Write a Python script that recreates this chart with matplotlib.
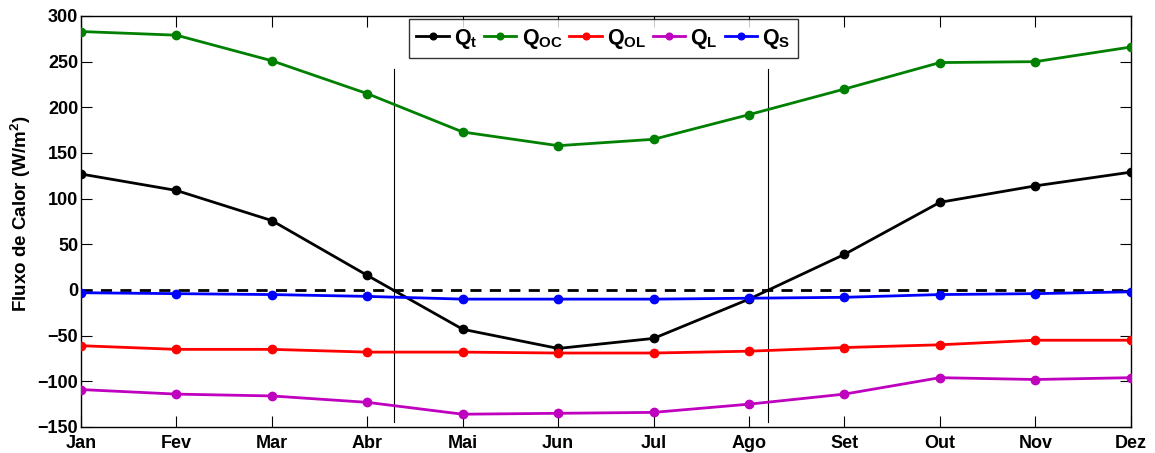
import matplotlib
matplotlib.use("Agg")
import matplotlib.pyplot as plt
import numpy as np

plt.rcParams['font.family'] = ['Liberation Sans', 'DejaVu Sans']
plt.rcParams['font.weight'] = 'bold'
plt.rcParams['mathtext.fontset'] = 'custom'
plt.rcParams['mathtext.bf'] = 'Liberation Sans:bold'
plt.rcParams['mathtext.rm'] = 'Liberation Sans:bold'

meses = ['Jan', 'Fev', 'Mar', 'Abr', 'Mai', 'Jun', 'Jul', 'Ago', 'Set', 'Out', 'Nov', 'Dez']

q_t = [127, 109, 76, 16, -43, -64, -53, -10, 39, 96, 114, 129]
q_oc = [283, 279, 251, 215, 173, 158, 165, 192, 220, 249, 250, 266]
q_ol = [-61, -65, -65, -68, -68, -69, -69, -67, -63, -60, -55, -55]
q_l = [-109, -114, -116, -123, -136, -135, -134, -125, -114, -96, -98, -96]
q_s = [-3, -4, -5, -7, -10, -10, -10, -9, -8, -5, -4, -2]

# linhas verticais (limites do periodo)
lim_x = [3.28, 7.2]
lim_y = [-145, 242]

series = [
    (q_t, 'black', r'$\mathbf{Q_t}$'),
    (q_oc, 'green', r'$\mathbf{Q_{OC}}$'),
    (q_ol, 'red', r'$\mathbf{Q_{OL}}$'),
    (q_l, 'm', r'$\mathbf{Q_L}$'),
    (q_s, 'blue', r'$\mathbf{Q_S}$'),
]

fig = plt.figure(figsize=(11.55, 4.53), dpi=100)
ax = fig.add_axes([0.0701, 0.0574, 0.9089, 0.9073])

x = np.arange(len(meses))
ax.plot([x[0], x[-1]], [0, 0], '--', color='black', lw=2, dashes=(4, 3), zorder=1)
for xv in lim_x:
    ax.plot([xv, xv], lim_y, color='black', lw=0.8, zorder=1)

for vals, cor, nome in series:
    ax.plot(x, vals, '-o', color=cor, lw=2, ms=6, label=nome, zorder=3)

ax.set_xlim(0, 11)
ax.set_ylim(-150, 300)
ax.set_xticks(x)
ax.set_xticklabels(meses)
ax.set_yticks(np.arange(-150, 301, 50))
ax.tick_params(direction='in', length=8, width=0.8, top=True, right=True,
               labelsize=13)
ax.tick_params(axis='x', pad=5.5)
ax.tick_params(axis='y', pad=2)
for lab in ax.get_xticklabels() + ax.get_yticklabels():
    lab.set_fontweight('bold')
ax.set_ylabel(r'Fluxo de Calor (W/m$^\mathbf{2}$)', fontsize=13.5, fontweight='bold')
ax.yaxis.set_label_coords(-0.046, 0.52)
for sp in ax.spines.values():
    sp.set_linewidth(1.0)

leg = ax.legend(loc='upper center', bbox_to_anchor=(0.5225, 0.958), bbox_transform=fig.transFigure,
                ncol=5, fontsize=15.5, frameon=True, fancybox=False, edgecolor='black',
                handlelength=1.5, handletextpad=0.25, columnspacing=0.3, borderpad=0.35,
                borderaxespad=0, markerscale=0.8)
leg.get_frame().set_linewidth(1.0)

fig.savefig('out.png', dpi=100)
